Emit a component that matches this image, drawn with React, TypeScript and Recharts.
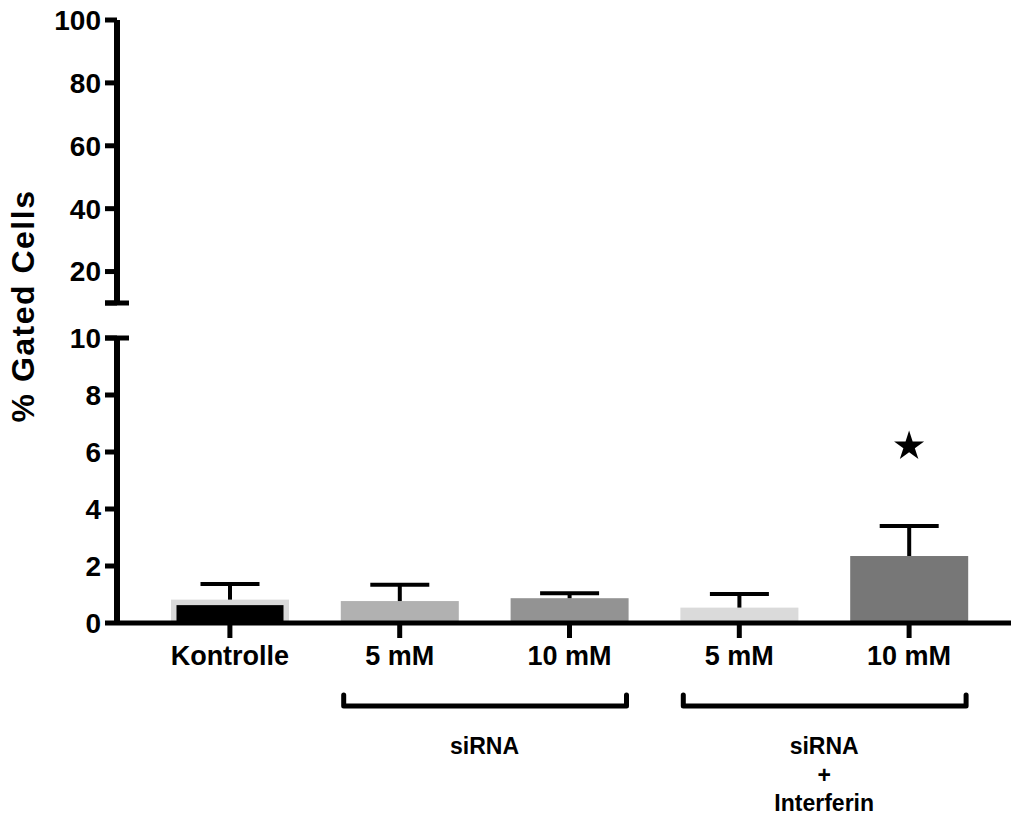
import { ComposedChart, BarChart, Bar, Scatter, XAxis, YAxis, Symbols } from 'recharts'

// categories and values
const categories = ['k', 's5', 's10', 'i5', 'i10']
const tickLabels = ['Kontrolle', '5 mM', '10 mM', '5 mM', '10 mM']
const means = [0.82, 0.77, 0.87, 0.54, 2.35]
const sems = [0.55, 0.57, 0.17, 0.48, 1.05]
const barColors = ['#d9d9d9', '#b1b1b1', '#939393', '#dadada', '#777777']
const lowerTicks = [0, 2, 4, 6, 8, 10]
const upperTicks = [10, 20, 40, 60, 80, 100]
const groups = [
    { first: 1, last: 2, lines: ['siRNA'] },
    { first: 3, last: 4, lines: ['siRNA', '+', 'Interferin'] },
]
const starred = [{ cat: 'i10', sig: 6.2 }]

const data = categories.map((cat, i) => ({
    cat,
    mean: means[i],
    sem: sems[i],
}))

const FONT = '"Liberation Sans", Arial, sans-serif'
const W = 1011
const AXIS_X = 117
const PAD_L = 28
const PAD_R = 17
const BAND = (W - AXIS_X - PAD_L - PAD_R) / categories.length

function MeanShape(props: any) {
    const { x, y, width, height, index } = props
    const fill = barColors[index]
    if (index === 0) {
        const b = 5.5
        return (
            <g>
                <rect x={x} y={y} width={width} height={height} fill={fill} />
                <rect x={x + b} y={y + b} width={width - 2 * b} height={Math.max(0, height - b)} fill="#000" />
            </g>
        )
    }
    return <rect x={x} y={y} width={width} height={height} fill={fill} />
}

function ErrShape(props: any) {
    const { x, y, width, height } = props
    const cx = x + width / 2
    return (
        <g stroke="#000" strokeWidth={4}>
            <line x1={cx} y1={y + height} x2={cx} y2={y} />
            <line x1={cx - 29.5} y1={y} x2={cx + 29.5} y2={y} />
        </g>
    )
}

function StarShape(props: any) {
    return <Symbols cx={props.cx} cy={props.cy} type="star" size={280} sizeType="area" fill="#000" />
}

function XTick(props: any) {
    const { x, y, payload } = props
    const i = categories.indexOf(payload.value)
    const g = groups.find((gr) => gr.first === i)
    let bracket = null
    if (g) {
        const left = x - 56
        const right = x + (g.last - g.first) * BAND + 57
        const mid = x + ((g.last - g.first) * BAND) / 2
        bracket = (
            <g>
                <path
                    d={`M${left},${y + 49} L${left},${y + 60} L${right},${y + 60} L${right},${y + 49}`}
                    fill="none"
                    stroke="#000"
                    strokeWidth={5}
                    strokeLinecap="round"
                    strokeLinejoin="round"
                />
                {g.lines.map((t, k) => (
                    <text
                        key={k}
                        x={mid}
                        y={y + 108 + k * 28.5}
                        textAnchor="middle"
                        fontFamily={FONT}
                        fontWeight="bold"
                        fontSize={23}
                        fill="#000"
                    >
                        {t}
                    </text>
                ))}
            </g>
        )
    }
    return (
        <g>
            <text x={x} y={y + 19} textAnchor="middle" fontFamily={FONT} fontWeight="bold" fontSize={27} fill="#000">
                {tickLabels[i]}
            </text>
            {bracket}
        </g>
    )
}

function makeYTick(capValue: number, showCapLabel: boolean) {
    return function YTick(props: any) {
        const { x, y, payload } = props
        const isCap = payload.value === capValue
        return (
            <g>
                {isCap && <line x1={x + 4} y1={y} x2={x + 28} y2={y} stroke="#000" strokeWidth={5} />}
                {(!isCap || showCapLabel) && (
                    <text x={x} y={y} dy="0.355em" textAnchor="end" fontFamily={FONT} fontWeight="bold" fontSize={28} fill="#000">
                        {payload.value}
                    </text>
                )}
            </g>
        )
    }
}

export default function App() {
    return (
        <div style={{ position: 'absolute', left: 0, top: 0, width: W, height: 818, background: '#fff' }}>
            <div style={{ position: 'absolute', left: 0, top: 0 }}>
                <BarChart width={W} height={313} data={data} margin={{ top: 20, right: 0, bottom: 10, left: 0 }}>
                    <XAxis dataKey="cat" hide padding={{ left: PAD_L, right: PAD_R }} />
                    <YAxis
                        domain={[10, 100]}
                        ticks={upperTicks}
                        interval={0}
                        width={AXIS_X}
                        tickSize={12}
                        tickMargin={4}
                        axisLine={{ stroke: '#000', strokeWidth: 6 }}
                        tickLine={{ stroke: '#000', strokeWidth: 5 }}
                        tick={makeYTick(10, false)}
                        allowDataOverflow
                    />
                </BarChart>
            </div>
            <div style={{ position: 'absolute', left: 0, top: 0 }}>
                <ComposedChart width={W} height={818} data={data} margin={{ top: 338, right: 0, bottom: 0, left: 0 }}>
                    <Bar dataKey="mean" stackId="a" barSize={118} shape={MeanShape} isAnimationActive={false} />
                    <Bar dataKey="sem" stackId="a" barSize={118} shape={ErrShape} isAnimationActive={false} />
                    <Scatter data={starred} dataKey="sig" shape={StarShape} isAnimationActive={false} />
                    <XAxis
                        dataKey="cat"
                        allowDuplicatedCategory={false}
                        interval={0}
                        height={195}
                        padding={{ left: PAD_L, right: PAD_R }}
                        tickSize={15}
                        tickMargin={8}
                        axisLine={{ stroke: '#000', strokeWidth: 5 }}
                        tickLine={{ stroke: '#000', strokeWidth: 5 }}
                        tick={XTick}
                    />
                    <YAxis
                        domain={[0, 10]}
                        ticks={lowerTicks}
                        interval={0}
                        width={AXIS_X}
                        tickSize={12}
                        tickMargin={4}
                        axisLine={{ stroke: '#000', strokeWidth: 6 }}
                        tickLine={{ stroke: '#000', strokeWidth: 5 }}
                        tick={makeYTick(10, true)}
                    />
                </ComposedChart>
            </div>
            <svg style={{ position: 'absolute', left: 0, top: 0 }} width={60} height={818}>
                <text
                    transform="translate(34,306) rotate(-90)"
                    textAnchor="middle"
                    fontFamily={FONT}
                    fontWeight="bold"
                    fontSize={32}
                    letterSpacing={1.5}
                    fill="#000"
                >
                    % Gated Cells
                </text>
            </svg>
        </div>
    )
}
